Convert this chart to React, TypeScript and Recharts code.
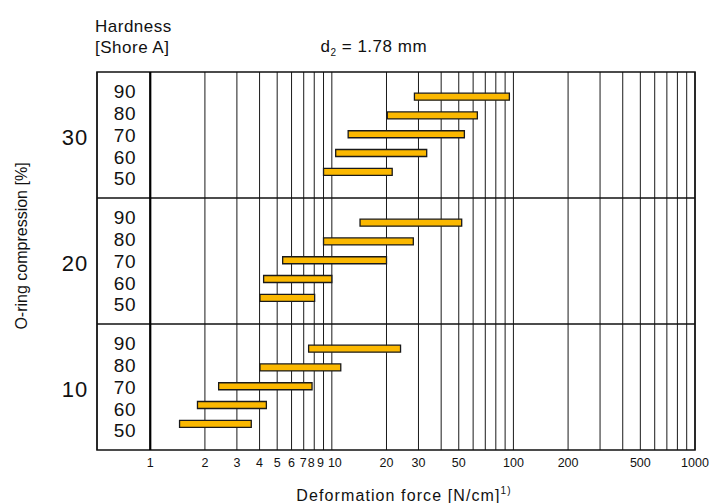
import React from 'react';
import {
  BarChart,
  Bar,
  XAxis,
  YAxis,
  CartesianGrid,
  ReferenceLine,
  ReferenceArea,
} from 'recharts';

// ---- data ----
const hardnessLevels = [90, 80, 70, 60, 50]; // Shore A
const compressionLevels = [30, 20, 10]; // O-ring compression [%]

// Deformation force ranges [N/cm], ordered by hardness 90..50
const forceMin30 = [28.5, 20.2, 12.3, 10.5, 9.0];
const forceMax30 = [95, 63.3, 53.7, 33.3, 21.5];
const forceMin20 = [14.3, 9.0, 5.36, 4.21, 4.02];
const forceMax20 = [51.9, 28.1, 20.0, 10.0, 8.04];
const forceMin10 = [7.45, 4.02, 2.38, 1.82, 1.45];
const forceMax10 = [23.9, 11.2, 7.78, 4.36, 3.6];

const forceTicks = [
  1, 2, 3, 4, 5, 6, 7, 8, 9,
  10, 20, 30, 40, 50, 60, 70, 80, 90,
  100, 200, 300, 400, 500, 600, 700, 800, 900,
  1000,
];
const labeledForceTicks = [1, 2, 3, 4, 5, 6, 7, 8, 9, 10, 20, 30, 50, 100, 200, 500, 1000];

const forceDomain: [number, number] = [0.509, 1000];
const compressionDomain: [number, number] = [5, 35];
const groupBoundaries = [15, 25];

// ---- layout (row spacing within a compression group, in axis units) ----
const BAR_STEP = 1.49;
const BAR_SHIFT = 0.07;
const LABEL_STEP = 1.73;
// small horizontal nudges of crowded tick labels (px)
const tickNudge: Record<number, number> = { 7: -0.5, 8: -3, 9: -3, 10: 3 };

const minsByGroup = [forceMin30, forceMin20, forceMin10];
const maxsByGroup = [forceMax30, forceMax20, forceMax10];

const rows = compressionLevels.flatMap((c, gi) =>
  hardnessLevels.map((h, i) => ({
    compression: c,
    hardness: h,
    pos: c + BAR_SHIFT + ((h - 70) / 10) * BAR_STEP,
    force: [minsByGroup[gi][i], maxsByGroup[gi][i]],
  }))
);

const labelTicks = compressionLevels.flatMap((c) =>
  hardnessLevels.map((h) => c + ((h - 70) / 10) * LABEL_STEP)
);

const FONT = '"Liberation Sans", Arial, Helvetica, sans-serif';

const ForceTick = (props: any) => {
  const { x, y, payload } = props;
  const v = payload.value as number;
  if (!labeledForceTicks.includes(v)) return <g />;
  return (
    <text
      x={x + (tickNudge[v] || 0)}
      y={y}
      dy={9.3}
      textAnchor="middle"
      fontSize={12.5}
      fontFamily={FONT}
      fill="#111"
    >
      {v}
    </text>
  );
};

const HardnessTick = (props: any) => {
  const { x, y, payload } = props;
  const v = payload.value as number;
  const c = Math.round(v / 10) * 10;
  const h = 70 + Math.round((v - c) / LABEL_STEP) * 10;
  return (
    <g>
      <text
        x={x + 28}
        y={y}
        dy={6.8}
        textAnchor="middle"
        fontSize={19}
        fontFamily={FONT}
        fill="#111"
        style={{ letterSpacing: '0.6px' }}
      >
        {h}
      </text>
      {h === 70 && (
        <text
          x={x - 22}
          y={y}
          dy={10.4}
          textAnchor="middle"
          fontSize={22}
          fontFamily={FONT}
          fill="#111"
          style={{ letterSpacing: '1px' }}
        >
          {c}
        </text>
      )}
    </g>
  );
};

const XTitle = (props: any) => {
  const vb = props.viewBox || {};
  return (
    <text
      x={vb.x + vb.width / 2 + 8}
      y={vb.y + 50.5}
      textAnchor="middle"
      fontSize={16}
      fontFamily={FONT}
      fill="#111"
      style={{ letterSpacing: '1.1px' }}
    >
      Deformation force [N/cm]
      <tspan fontSize={10} dy={-7}>1)</tspan>
    </text>
  );
};

const YTitle = (props: any) => {
  const vb = props.viewBox || {};
  const cx = vb.x + 26.5;
  const cy = vb.y + 174;
  return (
    <text
      x={cx}
      y={cy}
      transform={`rotate(-90, ${cx}, ${cy})`}
      textAnchor="middle"
      fontSize={16}
      fontFamily={FONT}
      fill="#111"
    >
      O-ring compression [%]
    </text>
  );
};

export default function App() {
  return (
    <div style={{ position: 'absolute', left: 0, top: 0, width: 718, height: 503, background: '#fff' }}>
      <BarChart
        width={718}
        height={503}
        data={rows}
        layout="vertical"
        margin={{ top: 72, right: 23, bottom: 0, left: 0 }}
      >
        <CartesianGrid horizontal={false} vertical stroke="#1a1a1a" strokeWidth={1} />
        <XAxis
          type="number"
          scale="log"
          domain={forceDomain}
          allowDataOverflow
          ticks={forceTicks}
          interval={0}
          height={53}
          axisLine={false}
          tickLine={false}
          tick={<ForceTick />}
          label={{ content: <XTitle /> } as any}
        />
        <YAxis
          type="number"
          dataKey="pos"
          domain={compressionDomain}
          reversed
          allowDataOverflow
          ticks={labelTicks}
          interval={0}
          width={97}
          axisLine={false}
          tickLine={false}
          tickSize={0}
          tickMargin={0}
          tick={<HardnessTick />}
          label={{ content: <YTitle /> } as any}
        />
        {groupBoundaries.map((b) => (
          <ReferenceLine key={b} y={b} stroke="#111" strokeWidth={1.5} />
        ))}
        <ReferenceLine x={1} stroke="#000" strokeWidth={2.2} />
        <ReferenceArea
          x1={forceDomain[0]}
          x2={forceDomain[1]}
          y1={compressionDomain[0]}
          y2={compressionDomain[1]}
          fill="none"
          fillOpacity={0}
          stroke="#111"
          strokeWidth={1.6}
        />
        <Bar
          dataKey="force"
          barSize={7}
          fill="#FBB800"
          stroke="#1a1a1a"
          strokeWidth={1.3}
          isAnimationActive={false}
        />
      </BarChart>
      <svg
        width={718}
        height={503}
        style={{ position: 'absolute', left: 0, top: 0, pointerEvents: 'none' }}
      >
        <g fontFamily={FONT} fontSize={17} fill="#111" style={{ letterSpacing: '0.5px' }}>
          <text x={95} y={31.5}>Hardness</text>
          <text x={95} y={53}>[Shore A]</text>
          <text x={320.5} y={52.3}>
            d<tspan fontSize={10} dy={4}>2</tspan>
            <tspan dy={-4}> = 1.78 mm</tspan>
          </text>
        </g>
      </svg>
    </div>
  );
}
